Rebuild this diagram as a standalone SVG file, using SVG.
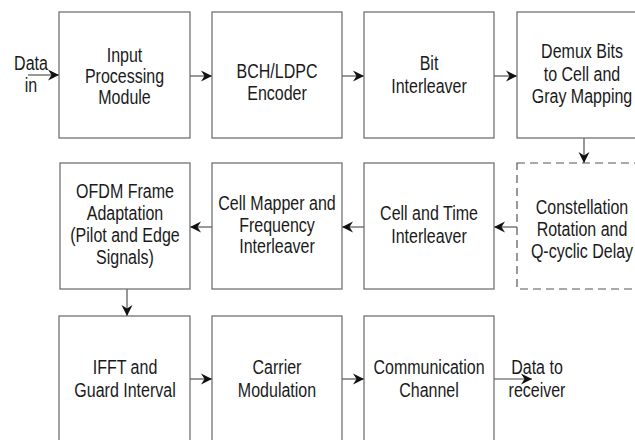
<svg xmlns="http://www.w3.org/2000/svg" width="635" height="440" viewBox="0 0 635 440">
<style>
.box{fill:#fff;stroke:#666;stroke-width:1.2}
.dash{fill:#fff;stroke:#555;stroke-width:1.2;stroke-dasharray:8 5}
.t{font-family:"Liberation Sans",Arial,sans-serif;font-size:20px;fill:#1a1a1a;text-anchor:middle}
.c{stroke:#444;stroke-width:1.1;fill:none;marker-end:url(#ah)}
</style>
<defs>
<marker id="ah" markerUnits="userSpaceOnUse" markerWidth="14" markerHeight="12" viewBox="-12 -6 14 12" refX="0" refY="0" orient="auto">
<path d="M0,0 L-11,-5.5 L-7.5,0 L-11,5.5 Z" fill="#111"/>
</marker>
</defs>
<rect width="635" height="440" fill="#fff"/>
<g id="connectors">
<line class="c" x1="28" y1="75" x2="59" y2="75"/>
<line class="c" x1="190" y1="76" x2="212" y2="76"/>
<line class="c" x1="342" y1="76" x2="364" y2="76"/>
<line class="c" x1="494" y1="76" x2="517" y2="76"/>
<line class="c" x1="584" y1="138" x2="584" y2="163"/>
<line class="c" x1="517" y1="227" x2="494" y2="227"/>
<line class="c" x1="364" y1="227" x2="342" y2="227"/>
<line class="c" x1="212" y1="227" x2="190" y2="227"/>
<line class="c" x1="127" y1="289" x2="127" y2="316"/>
<line class="c" x1="190" y1="379" x2="212" y2="379"/>
<line class="c" x1="342" y1="379" x2="364" y2="379"/>
<line class="c" x1="494" y1="379" x2="532" y2="379"/>
</g>
<g id="data-in"><text class="t" transform="translate(31,70) scale(0.8,1)">Data</text><text class="t" transform="translate(31,92) scale(0.8,1)">in</text></g>
<g id="input-processing"><rect class="box" x="59" y="12" width="131" height="126"/>
<text class="t" transform="translate(124.5,62) scale(0.8,1)">Input</text><text class="t" transform="translate(124.5,83) scale(0.8,1)">Processing</text><text class="t" transform="translate(124.5,104) scale(0.8,1)">Module</text></g>
<g id="bch-ldpc"><rect class="box" x="212" y="12" width="130" height="126"/>
<text class="t" transform="translate(277,78) scale(0.8,1)">BCH/LDPC</text><text class="t" transform="translate(277,100) scale(0.8,1)">Encoder</text></g>
<g id="bit-interleaver"><rect class="box" x="364" y="12" width="130" height="126"/>
<text class="t" transform="translate(429,70) scale(0.8,1)">Bit</text><text class="t" transform="translate(429,93) scale(0.8,1)">Interleaver</text></g>
<g id="demux"><rect class="box" x="517" y="12" width="131" height="126"/>
<text class="t" transform="translate(582,58) scale(0.8,1)">Demux Bits</text><text class="t" transform="translate(582,80.5) scale(0.8,1)">to Cell and</text><text class="t" transform="translate(582,103) scale(0.8,1)">Gray Mapping</text></g>
<g id="constellation"><rect class="dash" x="517" y="163" width="131" height="126"/>
<text class="t" transform="translate(582,214) scale(0.8,1)">Constellation</text><text class="t" transform="translate(582,236) scale(0.8,1)">Rotation and</text><text class="t" transform="translate(582,258) scale(0.8,1)">Q-cyclic Delay</text></g>
<g id="cell-time"><rect class="box" x="364" y="163" width="130" height="126"/>
<text class="t" transform="translate(429,220) scale(0.8,1)">Cell and Time</text><text class="t" transform="translate(429,243) scale(0.8,1)">Interleaver</text></g>
<g id="cell-mapper"><rect class="box" x="212" y="163" width="130" height="126"/>
<text class="t" transform="translate(277,210) scale(0.8,1)">Cell Mapper and</text><text class="t" transform="translate(277,232) scale(0.8,1)">Frequency</text><text class="t" transform="translate(277,253) scale(0.8,1)">Interleaver</text></g>
<g id="ofdm"><rect class="box" x="60" y="163" width="130" height="126"/>
<text class="t" transform="translate(125,198) scale(0.8,1)">OFDM Frame</text><text class="t" transform="translate(125,220) scale(0.8,1)">Adaptation</text><text class="t" transform="translate(125,242) scale(0.8,1)">(Pilot and Edge</text><text class="t" transform="translate(125,264) scale(0.8,1)">Signals)</text></g>
<g id="ifft"><rect class="box" x="59" y="316" width="131" height="130"/>
<text class="t" transform="translate(125,374) scale(0.8,1)">IFFT and</text><text class="t" transform="translate(125,397) scale(0.8,1)">Guard Interval</text></g>
<g id="carrier"><rect class="box" x="212" y="316" width="130" height="130"/>
<text class="t" transform="translate(277,374) scale(0.8,1)">Carrier</text><text class="t" transform="translate(277,397) scale(0.8,1)">Modulation</text></g>
<g id="channel"><rect class="box" x="364" y="316" width="130" height="130"/>
<text class="t" transform="translate(429,374) scale(0.8,1)">Communication</text><text class="t" transform="translate(429,397) scale(0.8,1)">Channel</text></g>
<g id="data-out"><text class="t" transform="translate(537,374) scale(0.8,1)">Data to</text><text class="t" transform="translate(537,397) scale(0.8,1)">receiver</text></g>
</svg>
